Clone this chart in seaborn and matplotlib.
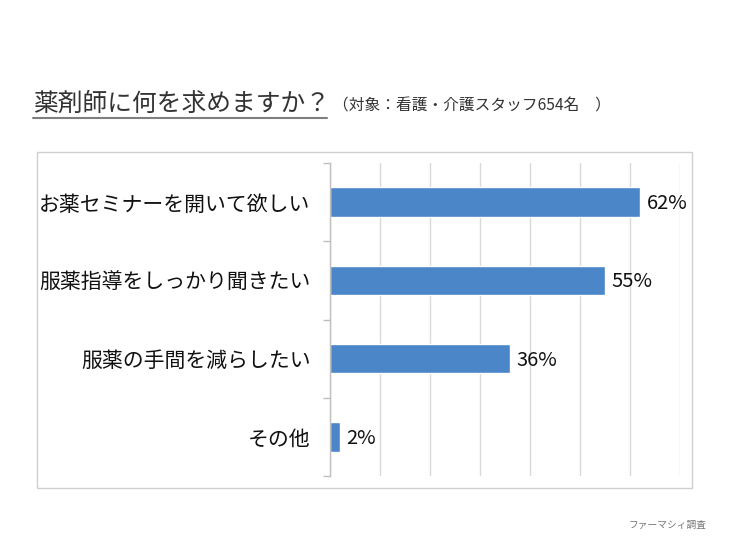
import numpy as np
import pandas as pd
import seaborn as sns
import matplotlib.pyplot as plt
from matplotlib.patches import Rectangle
from matplotlib.lines import Line2D

# data
answers = ["お薬セミナーを開いて欲しい", "服薬指導をしっかり聞きたい", "服薬の手間を減らしたい", "その他"]
percents = [62, 55, 36, 2]
grid_ticks = [0, 10, 20, 30, 40, 50, 60, 70]

title = "薬剤師に何を求めますか？"
subtitle = "（対象：看護・介護スタッフ654名　）"
source = "ファーマシィ調査"

sns.set_theme(style="white")
plt.rcParams['font.family'] = ['Noto Sans CJK JP', 'DejaVu Sans']

df = pd.DataFrame({"answer": answers, "percent": percents})

fig = plt.figure(figsize=(7.36, 5.52), dpi=100)
ax = fig.add_axes([330/736, 1-476/552, 350/736, 313/552])

sns.barplot(data=df, y="answer", x="percent", color="#4a86c8", width=0.38,
            saturation=1, ax=ax)

ax.set_xlim(0, 70)
ax.set_ylim(3.5, -0.5)
ax.set_xticks(grid_ticks)
ax.set_xticklabels([])
ax.tick_params(axis="x", length=0)
ax.xaxis.grid(True, color="#d9d9d9", linewidth=1)
ax.set_axisbelow(True)
ax.set_xlabel("")
ax.set_ylabel("")

# category boundary ticks on the axis line
ax.set_yticks(range(len(answers)))
ax.set_yticklabels(answers, fontsize=15, color="#111111")
ax.set_yticks(np.arange(-0.5, len(answers), 1), minor=True)
ax.tick_params(axis="y", which="major", length=0, pad=14)
ax.tick_params(axis="y", which="minor", length=5, color="#bfbfbf", width=1, left=True)

for side in ["top", "right", "bottom"]:
    ax.spines[side].set_visible(False)
ax.spines["left"].set_color("#bfbfbf")
ax.spines["left"].set_linewidth(1)

for i, v in enumerate(percents):
    ax.text(v + 1.3, i + 0.02, f"{v}%", va="center", ha="left", fontsize=14.5,
            color="#111111")

# frame around the chart
fig.patches.append(Rectangle((37/736, 1-488/552), 655/736, 336/552,
                             transform=fig.transFigure, fill=False,
                             edgecolor="#cfcfcf", linewidth=1))

# title with underline
fig.text(33/736, 1-104/552, title, fontsize=17.8, va="center", ha="left", color="#333333")
fig.lines.append(Line2D([33/736, 327/736], [1-118/552, 1-118/552],
                        transform=fig.transFigure, color="#7f7f7f", linewidth=1.5))
fig.text(333/736, 1-106/552, subtitle, fontsize=11.3, va="center", ha="left", color="#333333")

fig.text(707/736, 1-525/552, source, fontsize=7, va="center", ha="right", color="#777777")

fig.savefig("out.png", dpi=100, facecolor="white")
